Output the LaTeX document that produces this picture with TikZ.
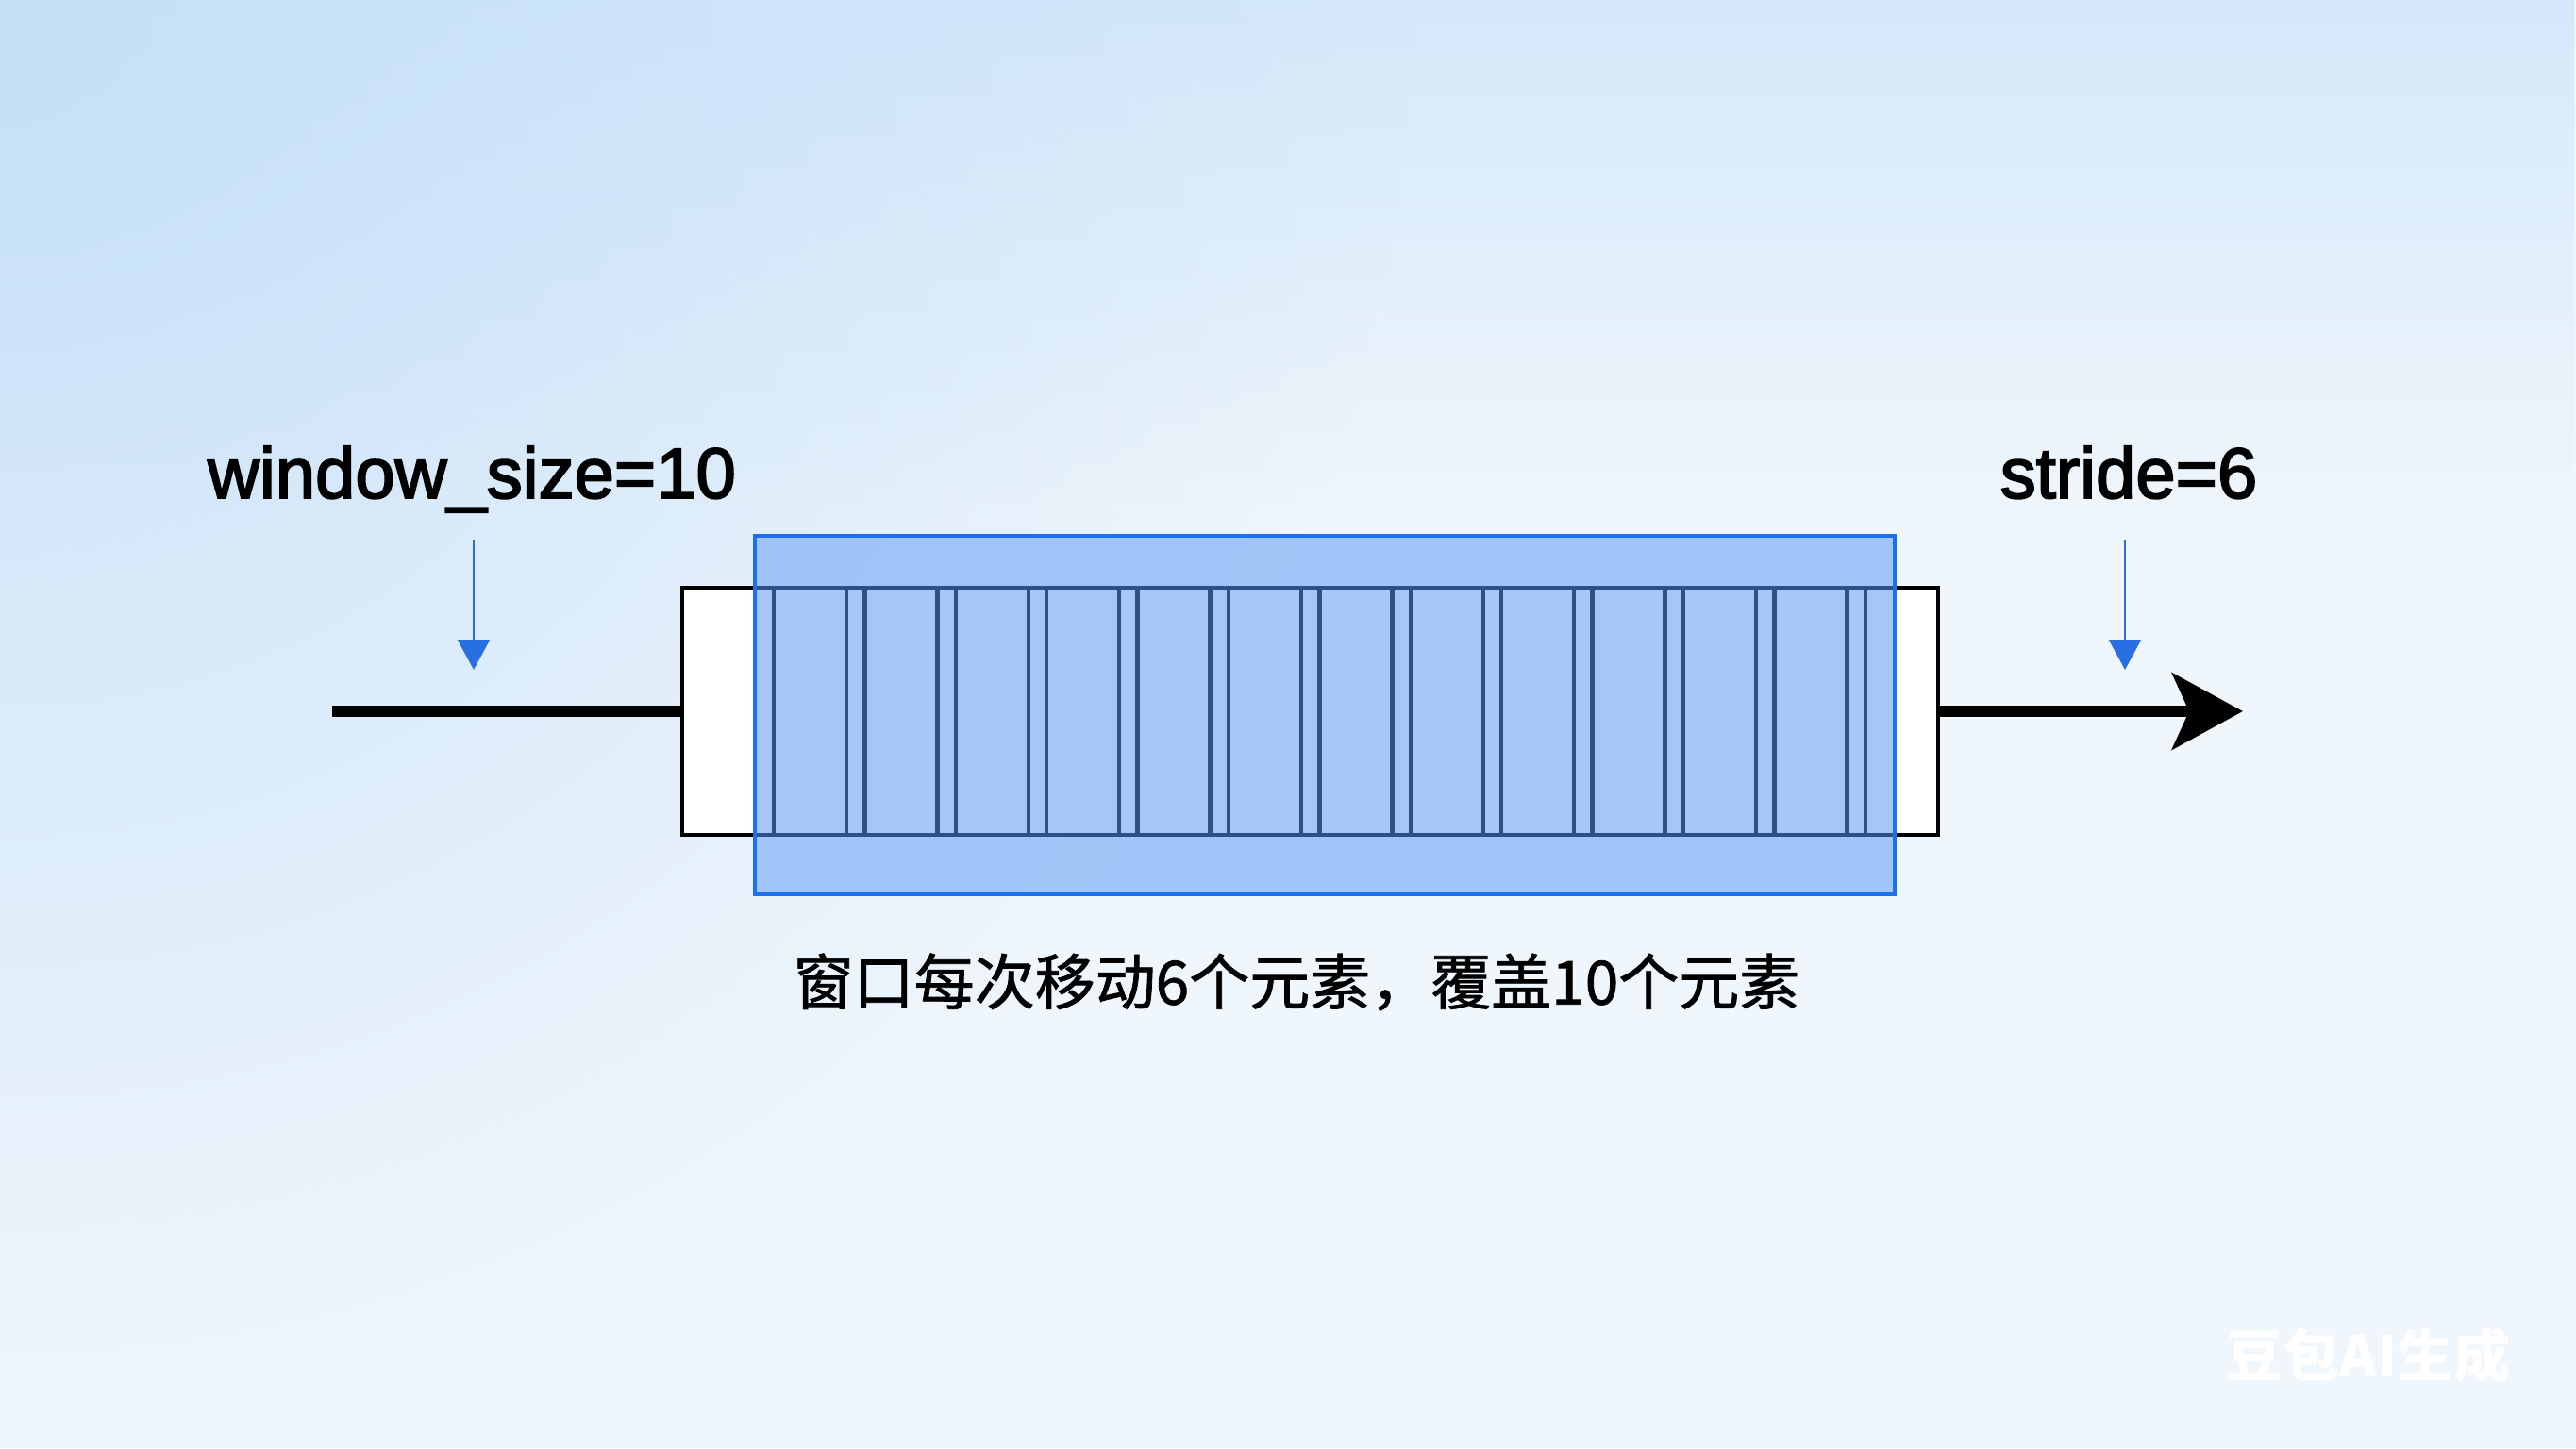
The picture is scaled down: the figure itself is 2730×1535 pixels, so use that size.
\documentclass[tikz,border=0pt]{standalone}
\usepackage{fontspec}
\setmainfont{Liberation Sans}
\newfontfamily\lblfont{Liberation Sans}[FakeBold=2.5]
\newfontfamily\cjk{Noto Sans CJK SC}
\newfontfamily\cjkcap{Noto Sans CJK SC}[FakeBold=1.2]
\usetikzlibrary{arrows.meta,fadings}
\tikzfading[name=softglow, inner color=transparent!0, outer color=transparent!100]
\definecolor{bgbase}{RGB}{239,246,252}
\definecolor{bgblue}{RGB}{206,229,250}
\definecolor{glowblue}{RGB}{198,224,248}
\definecolor{winfill}{RGB}{142,185,247}
\definecolor{winedge}{RGB}{30,110,240}
\definecolor{markblue}{RGB}{40,112,225}
\definecolor{celldark}{RGB}{45,80,135}
\begin{document}
\begin{tikzpicture}[x=0.25pt,y=0.25pt,
  trackbox/.style={draw=black, fill=white, line width=0.9pt, minimum width=332.75pt, minimum height=65.5pt, inner sep=0pt, outer sep=0pt},
  cellbox/.style={draw=black, line width=1.1pt, minimum width=19.25pt, minimum height=65.5pt, inner sep=0pt, outer sep=0pt},
  cellover/.style={draw=celldark, line width=1.1pt, minimum width=19.25pt, minimum height=65.5pt, inner sep=0pt, outer sep=0pt},
  windowbox/.style={fill=winfill, fill opacity=0.8, minimum width=302pt, minimum height=95pt, inner sep=0pt, outer sep=0pt},
  windowedge/.style={draw=winedge, line width=1pt, minimum width=302pt, minimum height=95pt, inner sep=0pt, outer sep=0pt},
  mainline/.style={line width=3pt, black},
  marker/.style={markblue, line width=0.65pt, -{Triangle[length=8pt,width=8.5pt]}},
  label/.style={font=\lblfont\fontsize{19}{23}\selectfont, inner sep=0pt, anchor=base},
  caption/.style={font=\cjkcap\fontsize{16}{20}\selectfont, inner sep=0pt},
  watermark/.style={font=\cjk\bfseries\fontsize{15}{18}\selectfont, text=white, inner sep=0pt}
]
\useasboundingbox (0,0) rectangle (2730,1535);
% background
\fill[bgbase] (0,0) rectangle (2730,1535);
\fill[bgblue, path fading=south, fill opacity=0.8] (0,1000) rectangle (2730,1535);
\fill[glowblue, path fading=softglow] (0,1535) circle[radius=1500];

% track and cells
\node[trackbox] (track) at (1388.5,781) {};
\foreach \i in {1,...,13}
  \node[cellbox] (c\i) at ({858.5+(\i-1)*96.4},781) {};
\node[windowbox] (win) at (1404,777) {};
\begin{scope}
  \clip (win.south west) rectangle (win.north east);
  \node[cellover, line width=0.9pt, minimum width=332.75pt] (trackin) at (track) {};
  \foreach \i in {1,...,13}
    \node[cellover] (d\i) at (c\i) {};
\end{scope}
\node[windowedge] (winedge) at (win) {};

% main line and arrow
\coordinate (start) at (352,781);
\coordinate (stop) at (2377,781);
\draw[mainline] (start) -- (track.west);
\draw[mainline, -{Stealth[length=18.75pt,width=20.25pt,inset=4.5pt]}] (track.east) -- (stop);

% labels
\node[label] (ws) at (500,1007) {window\_size=10};
\node[label] (st) at (2256,1007) {stride=6};
\coordinate (wsa) at (502,963);
\coordinate (wsb) at (502,825);
\coordinate (sta) at (2252,963);
\coordinate (stb) at (2252,825);
\draw[marker] (wsa) -- (wsb);
\draw[marker] (sta) -- (stb);

% caption
\node[caption] (cap) at (1374,494) {窗口每次移动6个元素，覆盖10个元素};

% watermark
\node[watermark] (wm) at (2510,98) {豆包AI生成};
\end{tikzpicture}
\end{document}
